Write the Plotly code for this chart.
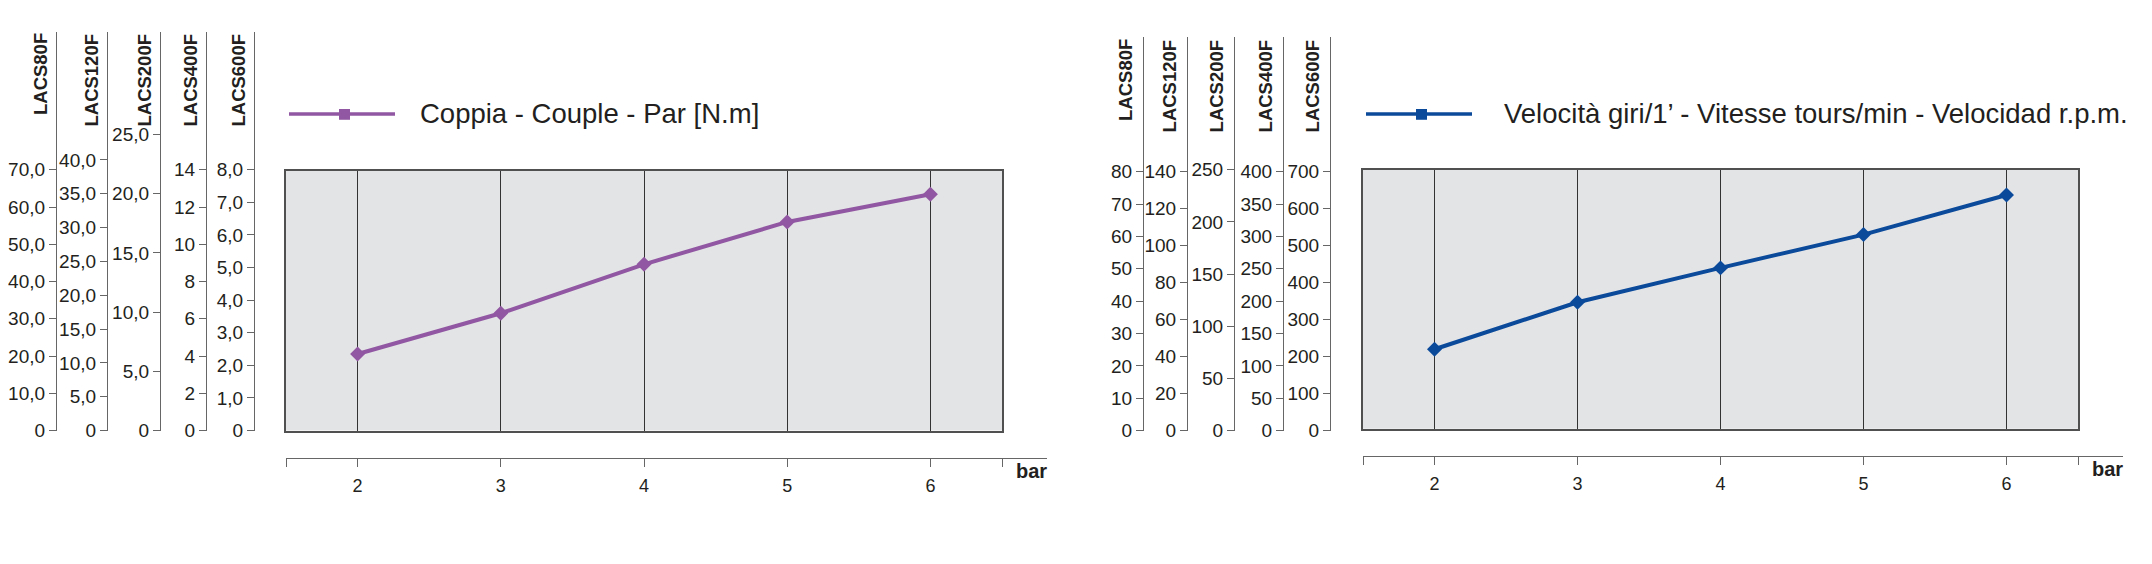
import plotly.graph_objects as go

# pressure in bar (x axis of both charts)
pressione = [2, 3, 4, 5, 6]
# torque N.m, read on the LACS600F scale
coppia = [2.35, 3.6, 5.1, 6.4, 7.25]
# speed r.p.m., read on the LACS600F scale
velocita = [220, 347, 440, 530, 637]

modelli = ["LACS80F", "LACS120F", "LACS200F", "LACS400F", "LACS600F"]

# scales of the torque chart, one per model
coppia_ticks_80 = [0, 10, 20, 30, 40, 50, 60, 70]
coppia_ticks_120 = [0, 5, 10, 15, 20, 25, 30, 35, 40]
coppia_ticks_200 = [0, 5, 10, 15, 20, 25]
coppia_ticks_400 = [0, 2, 4, 6, 8, 10, 12, 14]
coppia_ticks_600 = [0, 1, 2, 3, 4, 5, 6, 7, 8]

# scales of the speed chart, one per model
velocita_ticks_80 = [0, 10, 20, 30, 40, 50, 60, 70, 80]
velocita_ticks_120 = [0, 20, 40, 60, 80, 100, 120, 140]
velocita_ticks_200 = [0, 50, 100, 150, 200, 250]
velocita_ticks_400 = [0, 50, 100, 150, 200, 250, 300, 350, 400]
velocita_ticks_600 = [0, 100, 200, 300, 400, 500, 600, 700]

legenda_coppia = "Coppia - Couple - Par [N.m]"
legenda_velocita = "Velocità giri/1’ - Vitesse tours/min - Velocidad r.p.m."
unita_x = "bar"

# page size and pixel helpers (everything placed in paper coords)
W, H = 2152, 564
OFF = 8  # default body margin of the html page
FONT = "Liberation Sans, Arial, sans-serif"
PURPLE = "#9157a2"
BLUE = "#0b4a9b"
BG = "#e3e4e6"
GRID = "#333333"
BOX = "#505050"
AXIS = "#666666"
TXT = "#231f20"
ZERO_PX = 439


def px(p):
    return (p - OFF) / W


def py(p):
    return 1 - (p - OFF) / H


def comma(v):
    # italian style labels: 10,0 but plain 0
    return "0" if v == 0 else ("%.1f" % v).replace(".", ",")


fig = go.Figure()

layout = dict(width=W, height=H, margin=dict(l=0, r=0, t=0, b=0),
              paper_bgcolor="white", plot_bgcolor="rgba(0,0,0,0)",
              showlegend=False, font=dict(family=FONT, color=TXT),
              # dummy axes that the free axes get paired with
              xaxis=dict(visible=False, domain=[0, 0.0004], anchor="y", range=[0, 1]),
              yaxis=dict(visible=False, domain=[0, 0.0004], anchor="x", range=[0, 1]))
shapes = []
annotations = []
next_y = [4]


def hold_axis(xid, yid):
    # empty trace, only so that plotly draws the axis pair
    fig.add_trace(go.Scatter(x=[], y=[], xaxis=xid, yaxis=yid, hoverinfo="skip"))


def add_scales(axes_x, top_tick_px, line_top, tick_lists, label_lists, gap):
    for name, xpos, ttp, tv, tt in zip(modelli, axes_x, top_tick_px, tick_lists, label_lists):
        ppu = (ZERO_PX - ttp) / tv[-1]
        n = next_y[0]
        next_y[0] += 1
        layout["yaxis%d" % n] = dict(anchor="free", position=px(xpos), side="left",
                                     domain=[py(ZERO_PX), py(line_top)],
                                     range=[0, (ZERO_PX - line_top) / ppu],
                                     tickmode="array", tickvals=tv, ticktext=tt,
                                     ticks="outside", ticklen=7, tickwidth=1, tickcolor=AXIS,
                                     showline=True, linecolor=AXIS, linewidth=1.2,
                                     showgrid=False, zeroline=False, fixedrange=True,
                                     tickfont=dict(size=19, color=TXT))
        hold_axis("x", "y%d" % n)
        annotations.append(dict(text="<b>%s</b>" % name, textangle=-90,
                                xref="paper", yref="paper",
                                x=px(xpos - gap), y=py(line_top),
                                xanchor="right", yanchor="top", showarrow=False,
                                font=dict(size=18.5, color=TXT)))


def add_plot(n, box, scale_top_px, scale_top_val, low_axis, color, key_x, text_x, text):
    x0, x1, yt, yb = box
    xid, yid = "x%d" % n, "y%d" % n
    ppu = (ZERO_PX - scale_top_px) / scale_top_val
    layout["xaxis%d" % n] = dict(domain=[px(x0), px(x1)], range=[1.5, 6.5], anchor=yid,
                                 tickmode="array", tickvals=pressione,
                                 showticklabels=False, ticks="",
                                 showgrid=True, gridcolor=GRID, gridwidth=1,
                                 showline=True, mirror=True, linecolor=BOX, linewidth=1.5,
                                 zeroline=False, fixedrange=True)
    layout["yaxis%d" % n] = dict(domain=[py(yb), py(yt)],
                                 range=[(ZERO_PX - yb) / ppu, (ZERO_PX - yt) / ppu],
                                 anchor=xid, showticklabels=False, ticks="",
                                 showgrid=False, zeroline=False,
                                 showline=True, mirror=True, linecolor=BOX, linewidth=1.5,
                                 fixedrange=True)
    shapes.append(dict(type="rect", xref=xid + " domain", yref=yid + " domain",
                       x0=0, x1=1, y0=0, y1=1, fillcolor=BG, line=dict(width=0),
                       layer="below"))

    # separate pressure axis under the plot, longer than the plot box
    lk, ly, lend = low_axis
    ppx = (x1 - x0) / 5.0
    layout["xaxis%d" % lk] = dict(anchor="free", position=py(ly),
                                  domain=[px(x0), px(lend)],
                                  range=[1.5, 1.5 + (lend - x0) / ppx],
                                  tickmode="array", tickvals=[1.5] + pressione + [6.5],
                                  ticktext=[""] + [str(p) for p in pressione] + [""],
                                  ticks="outside", ticklen=8, tickcolor=AXIS,
                                  ticklabelstandoff=3,
                                  showline=True, linecolor=AXIS, linewidth=1.2,
                                  showgrid=False, zeroline=False, fixedrange=True,
                                  tickfont=dict(size=18, color=TXT))
    hold_axis("x%d" % lk, "y")
    annotations.append(dict(text="<b>%s</b>" % unita_x, xref="paper", yref="paper",
                            x=px(lend - 16), y=py(ly + 13), xanchor="center", yanchor="middle",
                            showarrow=False, font=dict(size=20, color=TXT)))

    # legend key
    shapes.append(dict(type="line", xref="paper", yref="paper",
                       x0=px(key_x), x1=px(key_x + 106), y0=py(116), y1=py(116),
                       line=dict(color=color, width=3.5)))
    shapes.append(dict(type="rect", xref="paper", yref="paper",
                       x0=px(key_x + 50), x1=px(key_x + 61), y0=py(122), y1=py(111),
                       fillcolor=color, line=dict(width=0)))
    annotations.append(dict(text=text, xref="paper", yref="paper",
                            x=px(text_x), y=py(116), xanchor="left", yanchor="middle",
                            showarrow=False, font=dict(size=27.5, color=TXT)))


coppia_ticks = [coppia_ticks_80, coppia_ticks_120, coppia_ticks_200, coppia_ticks_400, coppia_ticks_600]
coppia_labels = [[comma(v) for v in coppia_ticks_80], [comma(v) for v in coppia_ticks_120],
                 [comma(v) for v in coppia_ticks_200], [str(v) for v in coppia_ticks_400],
                 [comma(v) for v in coppia_ticks_600]]
velocita_ticks = [velocita_ticks_80, velocita_ticks_120, velocita_ticks_200,
                  velocita_ticks_400, velocita_ticks_600]
velocita_labels = [[str(v) for v in t] for t in velocita_ticks]

add_scales([56, 107, 160, 206, 254], [173, 163, 137, 173, 173], 32, coppia_ticks, coppia_labels, 3)
add_scales([1143, 1187, 1234, 1283, 1330], [175, 175, 173, 175, 175], 38, velocita_ticks, velocita_labels, 5)

add_plot(2, (286, 1002, 174, 439), 173, 8, (4, 467, 1047), PURPLE, 289, 418, legenda_coppia)
add_plot(3, (1363, 2078, 173, 437), 175, 700, (5, 465, 2123), BLUE, 1366, 1502, legenda_velocita)

fig.add_trace(go.Scatter(x=pressione, y=coppia, xaxis="x2", yaxis="y2",
                         mode="lines+markers", line=dict(color=PURPLE, width=4),
                         marker=dict(symbol="diamond", size=11.5, color=PURPLE),
                         hoverinfo="skip"))
fig.add_trace(go.Scatter(x=pressione, y=velocita, xaxis="x3", yaxis="y3",
                         mode="lines+markers", line=dict(color=BLUE, width=4),
                         marker=dict(symbol="diamond", size=11.5, color=BLUE),
                         hoverinfo="skip"))

layout["shapes"] = shapes
layout["annotations"] = annotations
fig.update_layout(**layout)

fig.write_html("out.html", config={"displayModeBar": False})
